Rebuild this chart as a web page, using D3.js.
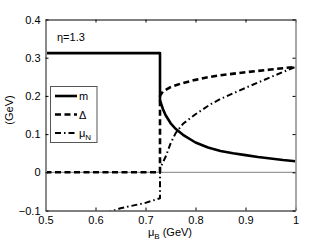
<!DOCTYPE html>
<html>
<head>
<meta charset="utf-8">
<script src="https://cdn.jsdelivr.net/npm/d3@7"></script>
<style>
body { margin: 0; background: #fff; }
text { font-family: "Liberation Sans", Arial, sans-serif; }
</style>
</head>
<body>
<svg id="canvas"></svg>
<script>
// values
let xTicks = [0.5, 0.6, 0.7, 0.8, 0.9, 1.0]
let yTicks = [-0.1, 0, 0.1, 0.2, 0.3, 0.4]

let mX = [0.5, 0.729, 0.729, 0.735, 0.74, 0.75, 0.76, 0.775, 0.8, 0.825, 0.85, 0.875, 0.9, 0.925, 0.95, 0.975, 1.0]
let mY = [0.312, 0.312, 0.188, 0.165, 0.150, 0.129, 0.114, 0.098, 0.078, 0.065, 0.056, 0.050, 0.045, 0.040, 0.036, 0.032, 0.029]

let deltaX = [0.5, 0.729, 0.729, 0.735, 0.75, 0.77, 0.8, 0.825, 0.85, 0.9, 0.95, 1.0]
let deltaY = [0, 0, 0.2, 0.212, 0.223, 0.232, 0.242, 0.249, 0.254, 0.262, 0.269, 0.276]

let muX = [0.62, 0.65, 0.7, 0.729, 0.729, 0.74, 0.75, 0.76, 0.775, 0.8, 0.83, 0.85, 0.9, 0.95, 1.0]
let muY = [-0.107, -0.094, -0.08, -0.068, 0.01, 0.04, 0.075, 0.102, 0.127, 0.152, 0.178, 0.192, 0.221, 0.249, 0.276]

let width = 327
let height = 246
let padL = 45.5, padR = 295.5, padT = 19.5, padB = 210.5

let svg = d3.select('#canvas')
    .attr('width', width)
    .attr('height', height)

let xScale = d3.scaleLinear().domain([0.5, 1]).range([padL, padR])
let yScale = d3.scaleLinear().domain([-0.1, 0.4]).range([padB, padT])

let fmt = d3.format('~g')

svg.append('defs').append('clipPath').attr('id', 'clip')
    .append('rect')
    .attr('x', padL).attr('y', padT)
    .attr('width', padR - padL).attr('height', padB - padT)

// zero line
svg.append('line')
    .attr('x1', padL).attr('x2', padR)
    .attr('y1', yScale(0)).attr('y2', yScale(0))
    .attr('stroke', '#808080')
    .attr('stroke-width', 1)

let line = d3.line()
    .x((d) => xScale(d[0]))
    .y((d) => yScale(d[1]))

let series = [
  {xs: mX, ys: mY, dash: null, w: 2.6},
  {xs: deltaX, ys: deltaY, dash: '6,3.5', w: 2.6},
  {xs: muX, ys: muY, dash: '6,3,1.5,3', w: 2}
]

let plot = svg.append('g').attr('clip-path', 'url(#clip)')
series.forEach((s) => {
  plot.append('path')
      .datum(s.xs.map((x, i) => [x, s.ys[i]]))
      .attr('d', line)
      .attr('fill', 'none')
      .attr('stroke', '#000')
      .attr('stroke-width', s.w)
      .attr('stroke-linejoin', 'round')
      .attr('stroke-dasharray', s.dash)
})

// axes
let xAxis = svg.append('g')
    .attr('transform', 'translate(0,' + padB + ')')
    .call(d3.axisBottom(xScale).tickValues(xTicks).tickFormat(fmt).tickSizeInner(-3).tickSizeOuter(0).tickPadding(6))
let xTop = svg.append('g')
    .attr('transform', 'translate(0,' + padT + ')')
    .call(d3.axisTop(xScale).tickValues(xTicks).tickFormat('').tickSizeInner(-3).tickSizeOuter(0))
let yAxis = svg.append('g')
    .attr('transform', 'translate(' + padL + ',0)')
    .call(d3.axisLeft(yScale).tickValues(yTicks).tickFormat(fmt).tickSizeInner(-3).tickSizeOuter(0).tickPadding(5))
let yRight = svg.append('g')
    .attr('transform', 'translate(' + padR + ',0)')
    .call(d3.axisRight(yScale).tickValues(yTicks).tickFormat('').tickSizeInner(-3).tickSizeOuter(0))

svg.selectAll('.tick text')
    .attr('font-size', 11)
    .attr('fill', '#000')
    .style('font-family', '"Liberation Sans", Arial, sans-serif')
svg.selectAll('.tick line').attr('stroke', '#000')

xAxis.select('.domain').attr('stroke', '#000')
xTop.select('.domain').attr('stroke', '#000')
yAxis.select('.domain').attr('stroke', '#8a8a8a').attr('stroke-width', 2)
yRight.select('.domain').attr('stroke', '#8a8a8a').attr('stroke-width', 1.5)

// labels
let xl = svg.append('text')
    .attr('x', 170).attr('y', 236)
    .attr('text-anchor', 'middle')
    .attr('font-size', 11)
xl.append('tspan').text('μ')
xl.append('tspan').text('B').attr('font-size', 8).attr('dy', 3)
xl.append('tspan').text(' (GeV)').attr('dy', -3)

svg.append('text')
    .attr('transform', 'translate(13,110) rotate(-90)')
    .attr('text-anchor', 'middle')
    .attr('font-size', 11)
    .text('(GeV)')

svg.append('text')
    .attr('x', 57).attr('y', 41)
    .attr('font-size', 11)
    .text('η=1.3')

// legend
let legend = svg.append('g')
legend.append('rect')
    .attr('x', 50.5).attr('y', 86.5)
    .attr('width', 46.5).attr('height', 56)
    .attr('fill', '#fff')
    .attr('stroke', '#555')
    .attr('stroke-width', 1)

let legendNames = ['m', 'Δ', 'μ']
series.forEach((s, i) => {
  let ly = 96 + i * 18.5
  legend.append('line')
      .attr('x1', 55).attr('x2', 77)
      .attr('y1', ly).attr('y2', ly)
      .attr('stroke', '#000')
      .attr('stroke-width', s.w)
      .attr('stroke-dasharray', s.dash)
  let t = legend.append('text')
      .attr('x', 79).attr('y', ly + 4)
      .attr('font-size', 11)
      .text(legendNames[i])
  if (i === 2) {
    t.append('tspan').text('N').attr('font-size', 8).attr('dy', 3)
  }
})
</script>
</body>
</html>
